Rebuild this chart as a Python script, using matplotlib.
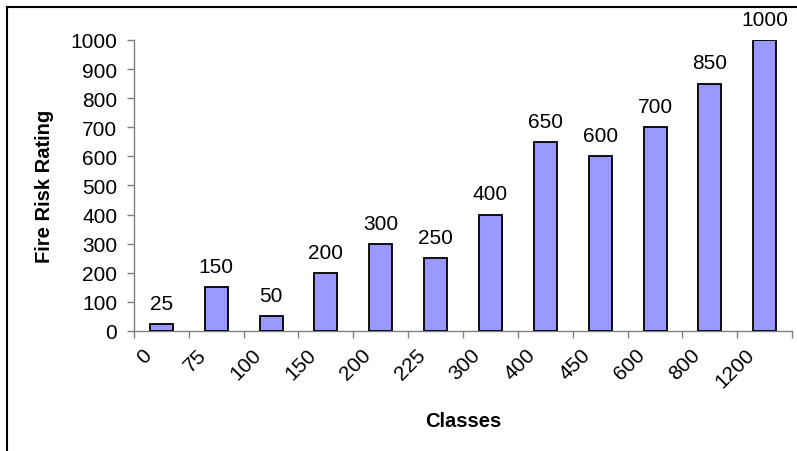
import matplotlib.pyplot as plt
import numpy as np

plt.rcParams['font.family'] = ['Liberation Sans', 'DejaVu Sans']

classes = ["0", "75", "100", "150", "200", "225", "300", "400", "450", "600", "800", "1200"]
ratings = [25, 150, 50, 200, 300, 250, 400, 650, 600, 700, 850, 1000]

fig = plt.figure(figsize=(7.97, 4.52), dpi=100)
ax = fig.add_axes([0.168, 0.2655, 0.826, 0.644])

x = np.arange(len(classes))
ax.bar(x, ratings, width=0.42, color="#9999FF", edgecolor="black", linewidth=1.3, zorder=3)

for xi, v in zip(x, ratings):
    ax.annotate(str(v), (xi, v), xytext=(0, 8), textcoords="offset points",
                ha="center", va="bottom", fontsize=15, annotation_clip=False)

ax.set_xlim(-0.5, len(classes) - 0.5)
ax.set_ylim(0, 1000)
ax.set_yticks(range(0, 1001, 100))
ax.tick_params(axis="y", labelsize=15, length=5, width=1, color="#808080", pad=7)

# category ticks sit between the bars; rotated labels end just left of each bar centre
ax.set_xticks(np.arange(-0.5, len(classes), 1.0))
ax.set_xticklabels([])
ax.set_xticks(x - 0.36, minor=True)
ax.set_xticklabels(classes, minor=True, rotation=45, ha="right", va="top",
                   rotation_mode="anchor", fontsize=15)
ax.tick_params(axis="x", which="major", length=5, width=1, color="#808080")
ax.tick_params(axis="x", which="minor", length=0, pad=10)

for side in ["top", "right"]:
    ax.spines[side].set_visible(False)
for side in ["left", "bottom"]:
    ax.spines[side].set_color("#808080")
    ax.spines[side].set_linewidth(1)

ax.set_ylabel("Fire Risk Rating", fontsize=14.5, fontweight="bold", labelpad=12)
ax.set_xlabel("Classes", fontsize=14.5, fontweight="bold", labelpad=14)

# chart frame
fig.add_artist(plt.Line2D([7 / 797, 7 / 797], [0, 1 - 8 / 452], color="black", lw=1.5))
fig.add_artist(plt.Line2D([7 / 797, 1], [1 - 8 / 452, 1 - 8 / 452], color="black", lw=1.5))

fig.savefig("out.png", dpi=100)
